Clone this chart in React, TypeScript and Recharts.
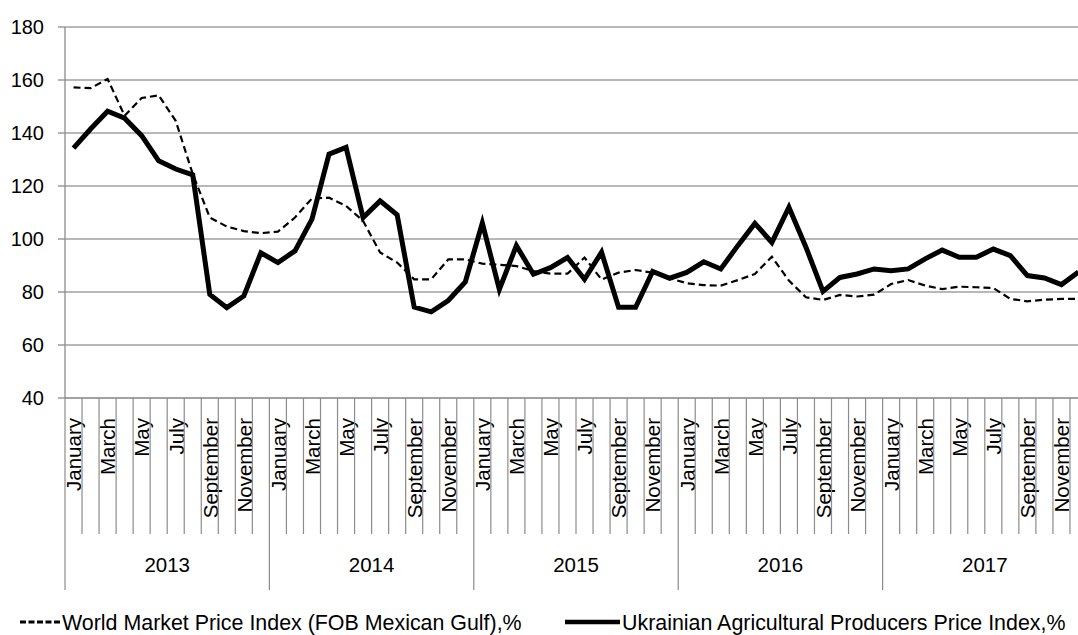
import React from 'react';
import { ComposedChart, Line, XAxis, YAxis, CartesianGrid } from 'recharts';

const years = ['2013', '2014', '2015', '2016', '2017'];
const months = [
  'January', 'February', 'March', 'April', 'May', 'June',
  'July', 'August', 'September', 'October', 'November', 'December',
];

// World Market Price Index (FOB Mexican Gulf),%
const worldIndex = [
  157.2, 156.9, 160.4, 146.5, 153.2, 154.2, 144.6, 124.5, 108.1, 104.7, 103.0, 102.2,
  102.8, 108.1, 115.3, 115.6, 112.5, 106.8, 94.9, 91.1, 84.8, 84.8, 92.3, 92.3,
  90.7, 90.3, 89.8, 87.9, 86.9, 86.9, 93.0, 84.7, 87.3, 88.3, 87.3, 85.2,
  83.3, 82.6, 82.4, 84.5, 86.8, 93.3, 84.3, 78.0, 77.0, 78.9, 78.3, 79.0,
  83.0, 84.5, 82.4, 81.1, 82.0, 81.8, 81.5, 77.4, 76.5, 77.1, 77.4, 77.4,
];

// Ukrainian Agricultural Producers Price Index,%
const ukrIndex = [
  134.3, 141.5, 148.2, 145.6, 139.0, 129.5, 126.4, 124.2, 79.1, 74.1, 78.5, 94.8,
  91.1, 95.5, 107.5, 132.0, 134.6, 108.1, 114.4, 109.1, 74.3, 72.5, 76.8, 83.8,
  106.0, 81.0, 97.5, 86.7, 89.2, 93.0, 84.8, 95.0, 74.2, 74.2, 87.8, 85.2,
  87.4, 91.4, 88.7, 97.5, 105.9, 98.7, 112.0, 96.9, 80.2, 85.5, 86.8, 88.7,
  88.0, 88.7, 92.5, 95.8, 93.1, 93.1, 96.2, 93.7, 86.2, 85.3, 82.8, 87.5,
];

const yTicks = [40, 60, 80, 100, 120, 140, 160, 180];

const rows = years.flatMap((year, yi) =>
  months.map((month, mi) => ({
    idx: yi * 12 + mi,
    year,
    month,
    world: worldIndex[yi * 12 + mi],
    ukr: ukrIndex[yi * 12 + mi],
  }))
);
const xTicks = rows.map((r) => r.idx);

const CHART_W = 1090;
const Y_AXIS_W = 65;
const RIGHT = 3;
const PLOT_W = CHART_W - Y_AXIS_W - RIGHT;
const STEP = PLOT_W / rows.length;
const FONT = '"Liberation Sans", Arial, sans-serif';
const AXIS_GREY = '#8c8c8c';

const MonthTick = (props: any) => {
  const { x, y, payload } = props;
  const i = Number(payload?.value);
  const row = rows[i];
  if (!row) return null;
  const m = i % 12;
  const left = x - STEP / 2;
  return (
    <g>
      <line x1={left} y1={y} x2={left} y2={y + (m === 0 ? 192 : 136)} stroke={AXIS_GREY} strokeWidth={1.2} />
      {m % 2 === 0 && (
        <text
          transform={`translate(${x},${y + 20}) rotate(-90)`}
          textAnchor="end"
          dy="0.38em"
          fontSize={20.5}
          fontFamily={FONT}
          fill="#000"
        >
          {row.month}
        </text>
      )}
      {m === 6 && (
        <text x={left} y={y + 174} textAnchor="middle" fontSize={20.5} fontFamily={FONT} fill="#000">
          {row.year}
        </text>
      )}
    </g>
  );
};

const App: React.FC = () => {
  return (
    <div style={{ position: 'absolute', left: 0, top: 0, width: 1078, height: 635, overflow: 'hidden', background: '#fff' }}>
      <ComposedChart
        width={CHART_W}
        height={635}
        data={rows}
        margin={{ top: 27, right: RIGHT, bottom: 45, left: 0 }}
      >
        <CartesianGrid vertical={false} stroke="#a0a0a0" strokeWidth={1.3} />
        <XAxis
          dataKey="idx"
          type="number"
          domain={[-0.5, rows.length - 0.5]}
          ticks={xTicks}
          interval={0}
          height={192}
          tickSize={0}
          tickMargin={0}
          tickLine={false}
          axisLine={{ stroke: AXIS_GREY }}
          tick={<MonthTick />}
        />
        <YAxis
          domain={[40, 180]}
          ticks={yTicks}
          width={Y_AXIS_W}
          tickSize={7}
          tickMargin={14}
          axisLine={{ stroke: AXIS_GREY, strokeWidth: 1.3 }}
          tickLine={{ stroke: AXIS_GREY, strokeWidth: 1.3 }}
          tick={{ fill: '#000', fontSize: 20, fontFamily: FONT }}
        />
        <Line
          dataKey="world"
          stroke="#000"
          strokeWidth={2.2}
          strokeDasharray="7 4"
          dot={false}
          isAnimationActive={false}
        />
        <Line
          dataKey="ukr"
          stroke="#000"
          strokeWidth={5}
          dot={false}
          isAnimationActive={false}
        />
      </ComposedChart>
      <svg width={1078} height={30} style={{ position: 'absolute', left: 0, top: 607 }}>
        <line x1={20} y1={15} x2={60} y2={15} stroke="#000" strokeWidth={3} strokeDasharray="6 2.5" />
        <text x={62} y={15} dy="0.36em" fontSize={21.4} fontFamily={FONT} fill="#000">
          World Market Price Index (FOB Mexican Gulf),%
        </text>
        <line x1={565} y1={15} x2={620} y2={15} stroke="#000" strokeWidth={4.5} />
        <text x={622} y={15} dy="0.36em" fontSize={21.4} fontFamily={FONT} fill="#000">
          Ukrainian Agricultural Producers Price Index,%
        </text>
      </svg>
    </div>
  );
};

export default App;
